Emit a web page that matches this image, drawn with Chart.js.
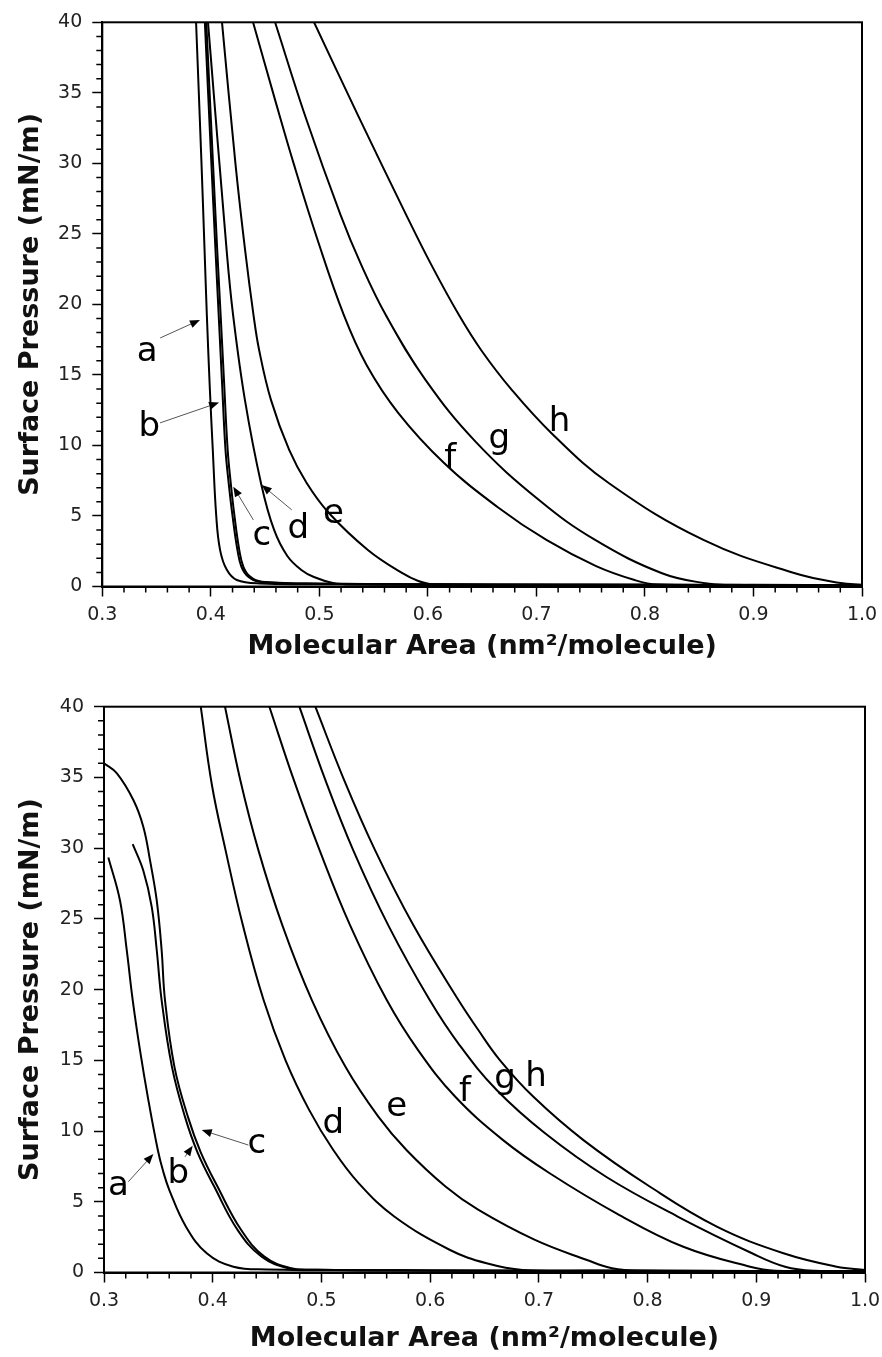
<!DOCTYPE html>
<html>
<head>
<meta charset="utf-8">
<script src="https://cdn.jsdelivr.net/npm/chart.js@4.4.1/dist/chart.umd.min.js"></script>
<style>
  html, body { margin: 0; padding: 0; background: #fff; }
  .panel { position: relative; width: 882px; }
  canvas { display: block; }
</style>
</head>
<body>
<div class="panel" style="height:665px"><canvas id="topChart" width="882" height="665"></canvas></div>
<div class="panel" style="height:692px"><canvas id="bottomChart" width="882" height="692"></canvas></div>
<script>
// curve names, same in both panels
const curveNames = ["a", "b", "c", "d", "e", "f", "g", "h"];

// tick labels
const xTicks = [0.3, 0.4, 0.5, 0.6, 0.7, 0.8, 0.9, 1.0];
const yTicks = [0, 5, 10, 15, 20, 25, 30, 35, 40];

// top panel, [molecular area, surface pressure]
const topA = [[0.3864, 40], [0.3914, 30], [0.3942, 23.9], [0.3963, 19.3], [0.3991, 14], [0.4018, 9.7], [0.405, 5], [0.4085, 2.6], [0.4146, 1.2], [0.4239, 0.46], [0.4453, 0.22], [0.55, 0.15], [0.7, 0.12], [0.85, 0.1], [1.0, 0.08]];
const topB = [[0.3945, 40], [0.4005, 30], [0.4042, 24], [0.4072, 19.3], [0.4103, 14.5], [0.4135, 9.7], [0.4165, 7.3], [0.42, 5], [0.4245, 2.6], [0.4282, 1.4], [0.4345, 0.7], [0.445, 0.34], [0.5, 0.2], [0.65, 0.15], [0.8, 0.12], [1.0, 0.1]];
const topC = [[0.3958, 40], [0.402, 30], [0.4058, 24], [0.409, 19.3], [0.4122, 14.5], [0.4155, 9.7], [0.4184, 7.3], [0.4218, 5], [0.4262, 2.6], [0.43, 1.4], [0.4362, 0.7], [0.4468, 0.34], [0.51, 0.2], [0.65, 0.15], [0.8, 0.12], [1.0, 0.1]];
const topD = [[0.3974, 40], [0.4145, 23.9], [0.4205, 19.26], [0.4314, 13.23], [0.4466, 7.2], [0.4583, 4.01], [0.4705, 2.16], [0.4834, 1.17], [0.495, 0.67], [0.5125, 0.25], [0.53, 0.14], [0.7, 0.12], [1.0, 0.1]];
const topE = [[0.4103, 40], [0.4228, 29.89], [0.4315, 23.9], [0.4393, 19.26], [0.4445, 16.77], [0.4554, 13.23], [0.4722, 9.68], [0.4883, 7.34], [0.5088, 5.21], [0.5447, 2.59], [0.5761, 0.96], [0.5912, 0.39], [0.6047, 0.16], [0.75, 0.12], [1.0, 0.1]];
const topF = [[0.4389, 40], [0.4592, 34.5], [0.4767, 29.89], [0.4984, 24.57], [0.5225, 19.26], [0.5435, 15.71], [0.5728, 12.3], [0.6149, 8.76], [0.6641, 5.64], [0.7092, 3.3], [0.755, 1.45], [0.7905, 0.46], [0.8112, 0.14], [0.9, 0.12], [1.0, 0.1]];
const topG = [[0.4592, 40], [0.4875, 33.23], [0.5195, 26.35], [0.5386, 22.8], [0.5611, 19.26], [0.5978, 14.65], [0.6441, 10.25], [0.7024, 6.13], [0.7541, 3.3], [0.8157, 0.94], [0.8555, 0.23], [0.8785, 0.13], [1.0, 0.1]];
const topH = [[0.4951, 40], [0.5356, 33.4], [0.58, 26.35], [0.6032, 22.8], [0.6285, 19.26], [0.649, 16.77], [0.6773, 13.94], [0.7139, 10.87], [0.7669, 7.32], [0.8539, 3.3], [0.9382, 0.94], [0.9803, 0.25], [1.0, 0.12]];

// bottom panel
const bottomA = [[0.304, 29.34], [0.3147, 26.3], [0.3209, 22.8], [0.3264, 19.26], [0.3331, 15.72], [0.3408, 12.19], [0.3495, 8.66], [0.3541, 7.24], [0.3601, 5.83], [0.3754, 3.24], [0.3945, 1.36], [0.419, 0.41], [0.4497, 0.22], [0.55, 0.15], [0.75, 0.12], [1.0, 0.1]];
const bottomB = [[0.3264, 30.28], [0.3362, 28.4], [0.3439, 25.85], [0.3485, 22.8], [0.353, 19.26], [0.3625, 14.54], [0.3745, 11.0], [0.386, 8.5], [0.4015, 6.06], [0.423, 3.0], [0.445, 1.12], [0.47, 0.3], [0.495, 0.2], [0.6, 0.15], [0.8, 0.12], [1.0, 0.1]];
const bottomC = [[0.3, 36], [0.3117, 35.3], [0.327, 33.4], [0.3362, 31.5], [0.3423, 29.15], [0.3485, 26.3], [0.353, 22.8], [0.3561, 19.26], [0.3648, 14.54], [0.3772, 11.0], [0.389, 8.5], [0.4045, 6.06], [0.4262, 3.0], [0.4475, 1.12], [0.472, 0.3], [0.497, 0.2], [0.6, 0.15], [0.8, 0.12], [1.0, 0.1]];
const bottomD = [[0.389, 40], [0.3993, 34.45], [0.4118, 29.86], [0.4277, 24.56], [0.4468, 19.26], [0.4669, 15.02], [0.4888, 11.48], [0.5109, 8.66], [0.5344, 6.3], [0.5673, 3.94], [0.6183, 1.59], [0.6519, 0.65], [0.6851, 0.18], [0.75, 0.12], [1.0, 0.1]];
const bottomE = [[0.4113, 40], [0.4253, 34.84], [0.442, 29.86], [0.464, 24.56], [0.4912, 19.26], [0.5221, 14.54], [0.5525, 11.0], [0.5782, 8.66], [0.6144, 6.06], [0.6445, 4.42], [0.6964, 2.3], [0.7443, 0.88], [0.7673, 0.3], [0.7931, 0.13], [1.0, 0.1]];
const bottomF = [[0.4521, 40], [0.4745, 34.84], [0.4983, 29.86], [0.5263, 24.56], [0.5601, 19.26], [0.5889, 15.72], [0.6229, 12.44], [0.6671, 9.36], [0.7103, 7.0], [0.7717, 4.17], [0.8329, 1.82], [0.8943, 0.41], [0.9173, 0.13], [1.0, 0.1]];
const bottomG = [[0.4797, 40], [0.5035, 34.84], [0.5292, 29.86], [0.5614, 24.56], [0.5996, 19.26], [0.627, 16.08], [0.6612, 12.9], [0.7057, 9.84], [0.7618, 6.77], [0.8281, 3.94], [0.8961, 1.36], [0.9265, 0.41], [0.9541, 0.12], [1.0, 0.1]];
const bottomH = [[0.4944, 40], [0.5209, 34.81], [0.5493, 29.86], [0.5845, 24.56], [0.626, 19.26], [0.6443, 17.14], [0.6643, 15.0], [0.695, 12.42], [0.741, 9.36], [0.8023, 6.06], [0.8637, 3.24], [0.925, 1.36], [0.974, 0.41], [1.0, 0.18]];

// curve letters: [text, x, y]; arrows: [fromX, fromY, toX, toY]
const topLetters = [["a", 0.3413, 16.63], ["b", 0.3433, 11.57], ["c", 0.4469, 3.65], ["d", 0.4806, 4.36], ["e", 0.5129, 5.19], ["f", 0.6205, 9.33], ["g", 0.6659, 10.27], ["h", 0.7212, 11.93]];
const topArrows = [[0.3533, 17.62, 0.390, 18.9], [0.3532, 11.6, 0.4076, 13.04], [0.4392, 4.72, 0.4207, 7.08], [0.4746, 5.43, 0.4469, 7.2]];
const bottomLetters = [["a", 0.3132, 6.18], ["b", 0.3684, 7.24], ["c", 0.4405, 9.13], ["d", 0.511, 10.78], ["e", 0.5693, 11.72], ["f", 0.6321, 13.02], ["g", 0.6689, 13.48], ["h", 0.6974, 14.08]];
const bottomArrows = [[0.3224, 6.42, 0.3454, 8.37], [0.3745, 8.18, 0.3816, 8.96], [0.4328, 9.01, 0.3899, 10.07]];

const FONT = "'DejaVu Sans', sans-serif";

// box around the plot
const frame = {
  id: "frame",
  afterDatasetsDraw(chart) {
    const { ctx, chartArea: a } = chart;
    ctx.save();
    ctx.strokeStyle = "#000";
    ctx.lineWidth = 2;
    ctx.strokeRect(a.left, a.top, a.right - a.left, a.bottom - a.top);
    ctx.restore();
  }
};

// short minor ticks between the labelled ones
const minorTicks = {
  id: "minorTicks",
  afterDraw(chart) {
    const { ctx, scales: { x, y } } = chart;
    ctx.save();
    ctx.strokeStyle = "#000";
    ctx.lineWidth = 1.5;
    ctx.beginPath();
    for (let i = 1; i < 35; i++) {
      if (i % 5 === 0) continue;
      const px = x.getPixelForValue(0.3 + i * 0.02);
      ctx.moveTo(px, x.top);
      ctx.lineTo(px, x.top + 6);
    }
    for (let v = 1; v < 40; v++) {
      if (v % 5 === 0) continue;
      const py = y.getPixelForValue(v);
      ctx.moveTo(y.right, py);
      ctx.lineTo(y.right - 6, py);
    }
    ctx.stroke();
    ctx.restore();
  }
};

// letters a..h and the little arrows
const letters = {
  id: "letters",
  afterDatasetsDraw(chart, args, opts) {
    const { ctx, scales: { x, y } } = chart;
    ctx.save();
    opts.arrows.forEach(([x0, y0, x1, y1]) => {
      const ax = x.getPixelForValue(x0), ay = y.getPixelForValue(y0);
      const bx = x.getPixelForValue(x1), by = y.getPixelForValue(y1);
      const ang = Math.atan2(by - ay, bx - ax);
      ctx.strokeStyle = "#555";
      ctx.lineWidth = 1;
      ctx.beginPath();
      ctx.moveTo(ax, ay);
      ctx.lineTo(bx - 8 * Math.cos(ang), by - 8 * Math.sin(ang));
      ctx.stroke();
      ctx.fillStyle = "#000";
      ctx.beginPath();
      ctx.moveTo(bx, by);
      ctx.lineTo(bx - 10 * Math.cos(ang) + 4 * Math.sin(ang), by - 10 * Math.sin(ang) - 4 * Math.cos(ang));
      ctx.lineTo(bx - 10 * Math.cos(ang) - 4 * Math.sin(ang), by - 10 * Math.sin(ang) + 4 * Math.cos(ang));
      ctx.closePath();
      ctx.fill();
    });
    ctx.font = "34px " + FONT;
    ctx.fillStyle = "#000";
    ctx.textAlign = "center";
    ctx.textBaseline = "alphabetic";
    opts.labels.forEach(([t, vx, vy]) => {
      const m = ctx.measureText(t);
      const px = x.getPixelForValue(vx);
      const py = y.getPixelForValue(vy) + (m.actualBoundingBoxAscent - m.actualBoundingBoxDescent) / 2;
      ctx.fillText(t, px, py);
    });
    ctx.restore();
  }
};

function makeChart(id, series, labels, arrows, yWidth, xHeight, pad) {
  return new Chart(document.getElementById(id), {
    type: "scatter",
    data: {
      datasets: series.map((pts, i) => ({
        label: curveNames[i],
        data: pts.map(([x, y]) => ({ x, y })),
        showLine: true,
        borderColor: "#000",
        borderWidth: 2,
        pointRadius: 0,
        tension: 0.4,
        fill: false
      }))
    },
    options: {
      responsive: false,
      animation: false,
      devicePixelRatio: 1,
      layout: { padding: pad },
      plugins: {
        legend: { display: false },
        tooltip: { enabled: false },
        letters: { labels, arrows }
      },
      scales: {
        x: {
          type: "linear",
          min: 0.3,
          max: 1.0,
          afterBuildTicks: s => { s.ticks = xTicks.map(v => ({ value: v })); },
          afterFit: s => { s.height = xHeight; s.paddingLeft = 0; s.paddingRight = 0; },
          ticks: {
            callback: v => v.toFixed(1),
            font: { family: FONT, size: 19 },
            color: "#222",
            padding: 7,
            autoSkip: false,
            maxRotation: 0
          },
          grid: { drawOnChartArea: false, tickLength: 10, tickColor: "#000", tickWidth: 1.5 },
          border: { color: "#000", width: 2 },
          title: {
            display: true,
            text: "Molecular Area (nm²/molecule)",
            font: { family: FONT, size: 27, weight: "bold" },
            color: "#111",
            padding: { top: 0, bottom: 2 }
          }
        },
        y: {
          type: "linear",
          min: 0,
          max: 40,
          afterBuildTicks: s => { s.ticks = yTicks.map(v => ({ value: v })); },
          afterFit: s => { s.width = yWidth; s.paddingTop = 0; s.paddingBottom = 0; },
          ticks: {
            font: { family: FONT, size: 19 },
            color: "#222",
            padding: 10
          },
          grid: { drawOnChartArea: false, tickLength: 10, tickColor: "#000", tickWidth: 1.5 },
          border: { color: "#000", width: 2 },
          title: {
            display: true,
            text: "Surface Pressure (mN/m)",
            font: { family: FONT, size: 27, weight: "bold" },
            color: "#111",
            padding: { top: 15, bottom: 0 }
          }
        }
      }
    },
    plugins: [frame, minorTicks, letters]
  });
}

makeChart("topChart",
  [topA, topB, topC, topD, topE, topF, topG, topH],
  topLetters, topArrows, 102.3, 78.5,
  { top: 22.3, right: 20, left: 0, bottom: 0 });

makeChart("bottomChart",
  [bottomA, bottomB, bottomC, bottomD, bottomE, bottomF, bottomG, bottomH],
  bottomLetters, bottomArrows, 104, 84.5,
  { top: 41.7, right: 17, left: 0, bottom: 0 });
</script>
</body>
</html>
